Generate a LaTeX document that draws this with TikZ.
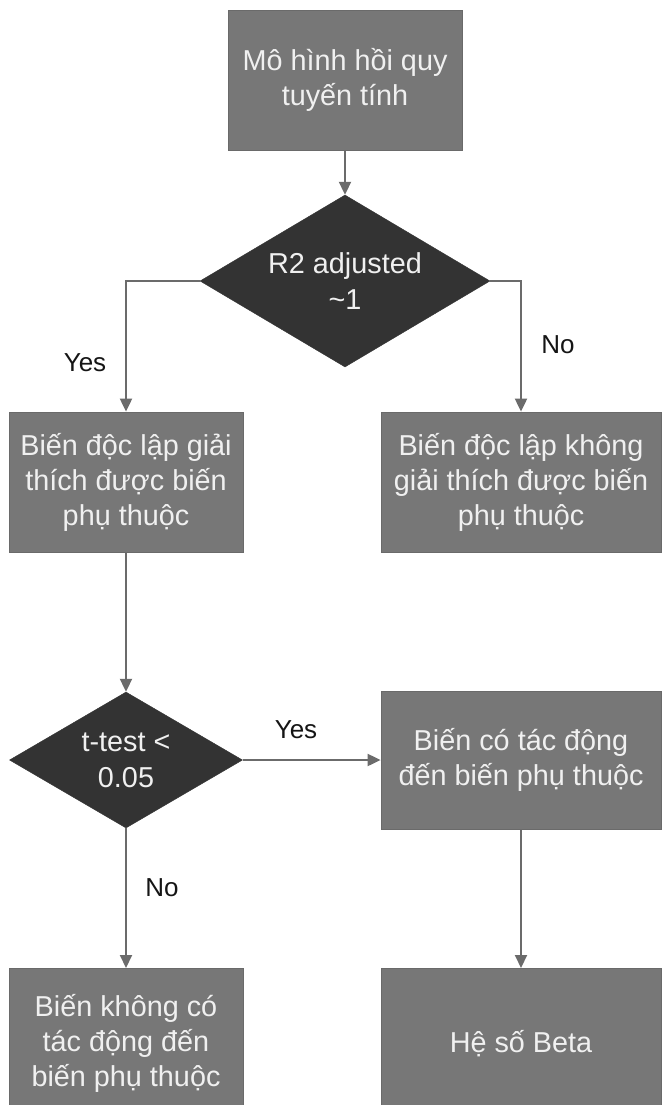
\documentclass[tikz,border=0pt]{standalone}
\usepackage{fontspec}
\setmainfont{Liberation Sans}
\usetikzlibrary{shapes.geometric,arrows.meta}
\definecolor{boxfill}{HTML}{777777}
\definecolor{boxedge}{HTML}{6A6A6A}
\definecolor{diafill}{HTML}{333333}
\definecolor{linec}{HTML}{6B6B6B}
\definecolor{intext}{HTML}{F0F0F0}
\definecolor{labtext}{HTML}{151515}
\begin{document}
\begin{tikzpicture}[x=1pt,y=-1pt,
  procbox/.style={rectangle, fill=boxfill, draw=boxedge, line width=0.8pt, text=intext, align=center, inner sep=0pt, font=\fontsize{28.8}{35}\selectfont},
  decide/.style={diamond, fill=diafill, draw=diafill, text=intext, align=center, inner sep=0pt, font=\fontsize{28.8}{36}\selectfont},
  conn/.style={draw=linec, line width=2pt, -{Triangle[length=13pt,width=12pt]}},
  lab/.style={text=labtext, font=\fontsize{26}{30}\selectfont, inner sep=0pt}]
\useasboundingbox (0,0) rectangle (661,1105);
\fill[white] (0,0) rectangle (661,1105);

\node[procbox, minimum width=234pt, minimum height=140pt] (a) at (345,80) {Mô hình hồi quy\\tuyến tính};
\node[decide, minimum width=290pt, minimum height=172pt, aspect=1.69] (d1) at (345,281) {R2 adjusted\\\textasciitilde1};
\node[procbox, minimum width=234pt, minimum height=140pt] (b) at (126,482) {Biến độc lập giải\\thích được biến\\phụ thuộc};
\node[procbox, minimum width=280pt, minimum height=140pt] (c) at (521,482) {Biến độc lập không\\giải thích được biến\\phụ thuộc};
\node[decide, minimum width=233pt, minimum height=136pt, aspect=1.71] (d2) at (126,760) {t-test <\\0.05};
\node[procbox, minimum width=280pt, minimum height=138pt] (e) at (521,760) {Biến có tác động\\đến biến phụ thuộc};
\node[procbox, minimum width=234pt, minimum height=150pt, anchor=north] (f) at (126,968) {Biến không có\\tác động đến\\biến phụ thuộc};
\node[procbox, minimum width=280pt, minimum height=150pt, anchor=north] (g) at (521,968) {Hệ số Beta};

\draw[conn] (a.south) -- (d1.north);
\draw[conn] (d1.west) -| (b.north);
\draw[conn] (d1.east) -| (c.north);
\draw[conn] (b.south) -- (d2.north);
\draw[conn] (d2.east) -- (e.west);
\draw[conn] (d2.south) -- (f.north);
\draw[conn] (e.south) -- (g.north);

\node[lab] (yes1) at (85,363) {Yes};
\node[lab] (no1) at (558,345) {No};
\node[lab] (yes2) at (296,730) {Yes};
\node[lab] (no2) at (162,888) {No};
\end{tikzpicture}
\end{document}
